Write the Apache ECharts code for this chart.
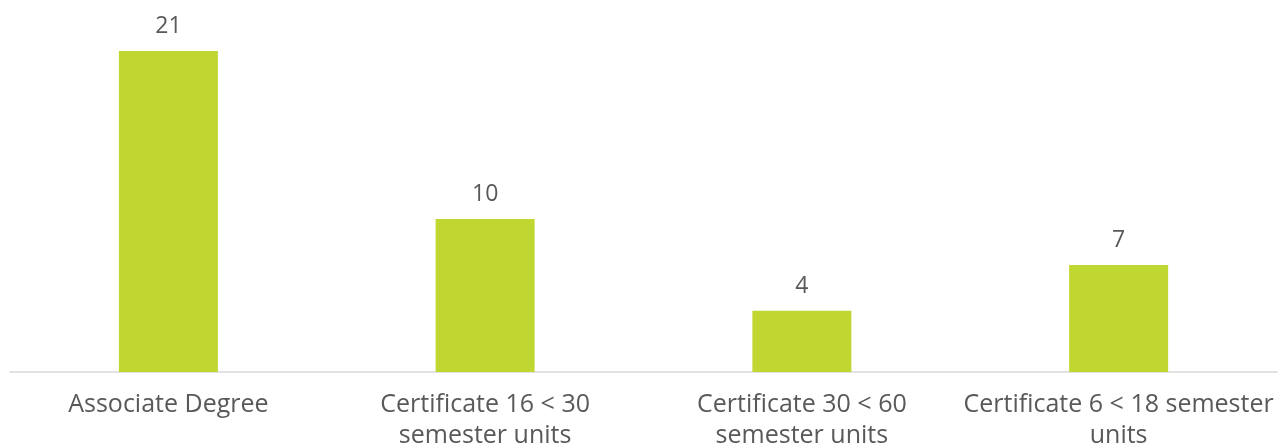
<!DOCTYPE html>
<html>
<head>
<meta charset="utf-8">
<script src="https://cdn.jsdelivr.net/npm/echarts@6/dist/echarts.min.js"></script>
<style>
html,body{margin:0;padding:0;background:#fff;}
#chart{width:1285px;height:444px;}
</style>
</head>
<body>
<div id="chart"></div>
<script>
const categories = ["Associate Degree", "Certificate 16 < 30 semester units", "Certificate 30 < 60 semester units", "Certificate 6 < 18 semester units"];
const tickLabels = ["Associate Degree", "Certificate 16 < 30\nsemester units", "Certificate 30 < 60\nsemester units", "Certificate 6 < 18 semester\nunits"];
const values = [21, 10, 4, 7];

const chart = echarts.init(document.getElementById('chart'));
chart.setOption({
  animation: false,
  grid: {left: 10, right: 8, top: 5, bottom: 72, containLabel: false, outerBoundsMode: 'none'},
  xAxis: {
    type: 'category',
    data: categories,
    axisLine: {lineStyle: {color: '#d9d9d9', width: 1.5}},
    axisTick: {show: false},
    axisLabel: {
      interval: 0,
      margin: 17,
      color: '#595959',
      fontFamily: 'Open Sans',
      fontSize: 25,
      lineHeight: 31,
      formatter: (v, i) => tickLabels[i]
    }
  },
  yAxis: {
    type: 'value',
    min: 0, max: 24,
    show: false,
    splitLine: {show: false}
  },
  series: [{
    type: 'bar',
    data: values,
    barWidth: 99,
    itemStyle: {color: '#C0D731'},
    label: {
      show: true,
      position: 'top',
      distance: 13,
      color: '#595959',
      fontFamily: 'Open Sans',
      fontSize: 23
    }
  }]
});
</script>
</body>
</html>
